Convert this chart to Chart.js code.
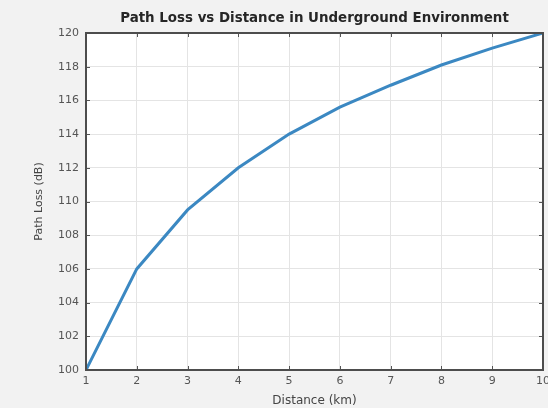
<!DOCTYPE html>
<html>
<head>
<meta charset="utf-8">
<script src="https://cdn.jsdelivr.net/npm/chart.js@4"></script>
<style>
  html, body { margin: 0; padding: 0; background: #f2f2f2; }
  #wrap { width: 548px; height: 408px; }
</style>
</head>
<body>
<div id="wrap"><canvas id="chart" width="548" height="408"></canvas></div>
<script>
// distance (km) and path loss (dB)
var distance = [1, 2, 3, 4, 5, 6, 7, 8, 9, 10];
var pathLoss = [100, 106.0, 109.5, 112.0, 114.0, 115.6, 116.9, 118.1, 119.1, 120];
var chartTitle = 'Path Loss vs Distance in Underground Environment';

var points = distance.map(function (d, i) { return { x: d, y: pathLoss[i] }; });
var FONT = '"DejaVu Sans", Verdana, sans-serif';

// white plot area, frame, inward ticks and a title centred over the axes
var boxPlugin = {
  id: 'box',
  beforeDraw: function (chart) {
    var a = chart.chartArea, c = chart.ctx;
    c.save();
    c.fillStyle = '#ffffff';
    c.fillRect(a.left, a.top, a.right - a.left, a.bottom - a.top);
    c.restore();
  },
  afterDatasetsDraw: function (chart) {
    var a = chart.chartArea, c = chart.ctx;
    var xs = chart.scales.x, ys = chart.scales.y;
    c.save();
    c.strokeStyle = '#555555';
    c.lineWidth = 1;
    c.beginPath();
    xs.ticks.forEach(function (t) {
      var px = Math.round(xs.getPixelForValue(t.value)) + 0.5;
      c.moveTo(px, a.bottom); c.lineTo(px, a.bottom - 4);
      c.moveTo(px, a.top); c.lineTo(px, a.top + 4);
    });
    ys.ticks.forEach(function (t) {
      var py = Math.round(ys.getPixelForValue(t.value)) + 0.5;
      c.moveTo(a.left, py); c.lineTo(a.left + 4, py);
      c.moveTo(a.right, py); c.lineTo(a.right - 4, py);
    });
    c.stroke();
    c.strokeStyle = '#4d4d4d';
    c.lineWidth = 2;
    c.strokeRect(a.left, a.top, a.right - a.left, a.bottom - a.top);

    c.fillStyle = '#262626';
    c.font = 'bold 13.4px ' + FONT;
    c.textAlign = 'center';
    c.textBaseline = 'middle';
    c.fillText(chartTitle, (a.left + a.right) / 2, 19);
    c.restore();
  }
};

var ctx = document.getElementById('chart').getContext('2d');

var myChart = new Chart(ctx, {
  type: 'line',
  data: {
    datasets: [{
      label: 'Path Loss',
      data: points,
      borderColor: '#3b88c2',
      borderWidth: 3,
      pointRadius: 0,
      tension: 0,
      fill: false
    }]
  },
  options: {
    responsive: false,
    animation: false,
    layout: { padding: { left: 33, right: 5, top: 33, bottom: 0 } },
    plugins: {
      legend: { display: false },
      tooltip: { enabled: false },
      title: { display: false }
    },
    scales: {
      x: {
        type: 'linear',
        min: 1,
        max: 10,
        ticks: {
          stepSize: 1,
          color: '#555555',
          font: { family: FONT, size: 11 },
          padding: 5,
          maxRotation: 0
        },
        grid: { color: '#e4e4e4', drawTicks: false },
        border: { display: false },
        title: {
          display: true,
          text: 'Distance (km)',
          color: '#444444',
          font: { family: FONT, size: 12 },
          padding: { top: 0, bottom: 0 }
        },
        afterFit: function (s) {
          s.height = 38;
          s.paddingLeft = 0;
          s.paddingRight = 0;
        }
      },
      y: {
        min: 100,
        max: 120,
        ticks: {
          stepSize: 2,
          color: '#555555',
          font: { family: FONT, size: 11 },
          padding: 7
        },
        grid: { color: '#e4e4e4', drawTicks: false },
        border: { display: false },
        title: {
          display: true,
          text: 'Path Loss (dB)',
          color: '#444444',
          font: { family: FONT, size: 11 },
          padding: { top: 0, bottom: 0 }
        },
        afterFit: function (s) {
          s.width = 53;
          s.paddingTop = 0;
          s.paddingBottom = 0;
        }
      }
    }
  },
  plugins: [boxPlugin]
});
</script>
</body>
</html>
